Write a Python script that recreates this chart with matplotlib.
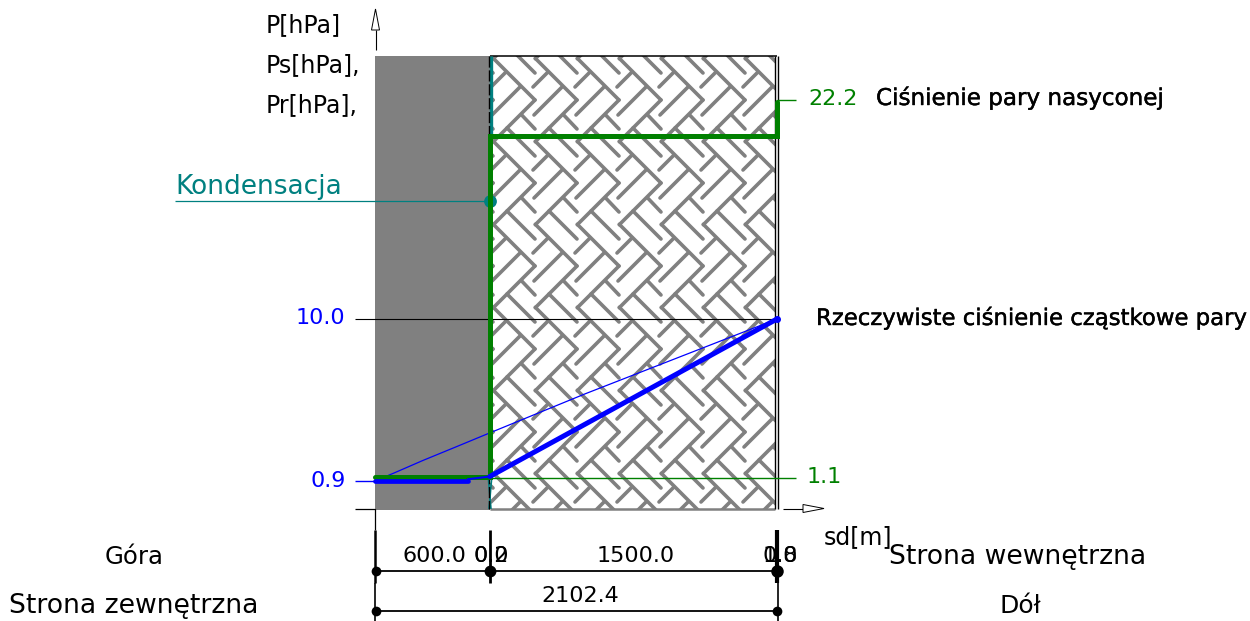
import numpy as np
import matplotlib
matplotlib.use("Agg")
import matplotlib.pyplot as plt
import matplotlib.patheffects as pe
from matplotlib.collections import LineCollection
from matplotlib.patches import Rectangle, Polygon
from matplotlib.transforms import Affine2D

# layers: thickness in sd[m]
layer_labels = ["600.0", "0.2", "0.0", "1500.0", "0.8", "1.0"]
layer_total = 2102.4

# saturation pressure Ps
ps_sd = [0, 600, 600, 2102.4, 2102.4]
ps_val = [1.15, 1.15, 20.3, 20.3, 22.2]
# partial pressure Pr (broken line)
pr_sd = [0, 487, 487, 600, 2102.4]
pr_val = [0.9, 0.9, 1.0, 1.15, 10.0]
# straight line between both surfaces
pr_straight_sd = [0, 100, 250, 420, 600, 1100, 2102.4]
pr_straight_val = [0.9, 1.35, 2.05, 2.8, 3.6, 5.8, 10.0]

cond_sd = 600.0
cond_p = 16.63

W, H = 1250, 621
fig = plt.figure(figsize=(W / 100, H / 100), dpi=100)
ax = fig.add_axes([0, 0, 1, 1])
ax.set_xlim(-375 / 0.1912, (W - 375) / 0.1912)
ax.set_ylim(10 - (H - 319) / 17.8, 10 + 319 / 17.8)
ax.axis("off")

# pixel coordinates for the drawing furniture
px = Affine2D().scale(1, -1).translate(0, H)

BLACK = "#000000"
GREEN = "#008000"
BLUE = "#0000ff"
TEAL = "#008080"
GRAY = "#808080"
y_top, y_bot = 24.78, -0.72

ax.add_patch(Rectangle((0, y_bot), 600, y_top - y_bot, fc=GRAY, ec="none", zorder=1))
clip = Rectangle((490, 56), 285, 453, transform=px)

# herringbone hatch
segs = []
for col in range(-2, 9):
    for row in range(-2, 8):
        x0 = 535 + 42 * col
        y0 = 100 + 83 * row
        for (a, b, c, d) in [(-41.7, -41.7, 0, 0), (0, 0, -41.7, 41.7), (-15, -13, -43, 15),
                             (-29, -28, -44, -13), (-13.3, 15, 0, 29), (-28, 28, 0, 56)]:
            segs.append([(x0 + a, y0 + b), (x0 + c, y0 + d)])
hatch = LineCollection(segs, colors=GRAY, linewidths=2.6, capstyle="round", transform=px, zorder=2)
ax.add_collection(hatch)
hatch.set_clip_path(clip)


def pline(xs, ys, color=BLACK, lw=0.75, z=3, **kw):
    ax.plot(xs, ys, color=color, lw=lw, transform=px, zorder=z, solid_capstyle="butt", **kw)


# borders of the wall
pline([490, 777], [56, 56], lw=1.1)
pline([490, 775], [508.5, 508.5], color=GRAY, lw=1.8)
pline([775, 775], [56, 509], lw=1.0)
pline([777.5, 777.5], [56, 509], lw=1.0)

# teal condensation plane
pline([491, 491], [56, 136], color=TEAL, lw=2.4, z=4)
pline([488.5, 491], [480, 509], color=TEAL, lw=1.2, z=4)
pline([491.5, 489], [480, 509], color=TEAL, lw=1.2, z=4)
pline([489, 489], [56, 509], lw=1.0, z=4, dashes=(8, 2))

# leaders
pline([355, 777], [319, 319], lw=0.8)
pline([355, 375], [481, 481], color=BLUE, lw=1.0)
pline([355, 375, 375], [509, 509, 530], lw=0.9)
pline([490, 796], [478, 478], color=GREEN, lw=1.0, z=5)
pline([777, 796], [100, 100], color=GREEN, lw=1.0)
pline([175, 490], [201, 201], color=TEAL, lw=0.9, z=5)

# series
ax.plot([cond_sd], [cond_p], "o", color=TEAL, ms=9.2, mec="none", zorder=5)
ax.plot(pr_straight_sd, pr_straight_val, color=BLUE, lw=0.9, zorder=6)
ax.plot(ps_sd, ps_val, color=GREEN, lw=3.6, zorder=7, solid_capstyle="round", solid_joinstyle="miter")
ax.plot(pr_sd[:2], pr_val[:2], color=BLUE, lw=3.4, zorder=8, solid_capstyle="round")
ax.plot(pr_sd[2:4], pr_val[2:4], color=BLUE, lw=1.5, zorder=8)
ax.plot(pr_sd[3:], pr_val[3:], color=BLUE, lw=3.6, zorder=8, solid_capstyle="round")
ax.plot([layer_total], [10.0], "o", color=BLUE, ms=4, zorder=8)

# axis arrows
pline([375.5, 375.5], [50, 30], lw=0.8)
ax.add_patch(Polygon([(375.5, 9), (371.5, 30), (379.5, 30)], closed=True, fc="white", ec=BLACK, lw=0.7, transform=px, zorder=3))
pline([783, 803], [508.5, 508.5], lw=0.8)
ax.add_patch(Polygon([(824, 508.5), (803, 504.5), (803, 512.5)], closed=True, fc="white", ec=BLACK, lw=0.7, transform=px, zorder=3))

# dimension lines
pline([375, 375], [530, 583], lw=1.8)
pline([375, 375], [583, 621], lw=1.2)
pline([489.5, 489.5], [530, 583], lw=2.0)
pline([776.5, 776.5], [530, 583], lw=3.0)
pline([777.5, 777.5], [583, 621], lw=1.2)
pline([375, 777], [570.5, 570.5], lw=1.3)
pline([375, 777], [611, 611], lw=1.3)
for dx, dy, ms in [(375.5, 570.5, 7), (490, 570.5, 8.5), (776.5, 570.5, 9), (375.5, 611, 7), (777, 611, 7)]:
    ax.plot([dx], [dy], "o", color=BLACK, ms=ms, mec="none", transform=px, zorder=6)


def label(x, y, s, color=BLACK, size=16, ha="left", bold=False):
    t = ax.text(x, y, s, color=color, fontsize=size, ha=ha, va="center", transform=px, zorder=9)
    if bold:
        t.set_path_effects([pe.withStroke(linewidth=0.3, foreground=color)])


label(266, 25, "P[hPa]", size=17)
label(266, 65, "Ps[hPa],", size=17)
label(266, 105, "Pr[hPa],", size=17)
label(175, 187, "Kondensacja", color=TEAL, size=19)
label(296, 318, "10.0", color=BLUE)
label(310, 481, "0.9", color=BLUE)
label(808, 99, "22.2", color=GREEN)
label(807, 477, "1.1", color=GREEN)
label(876, 98, "Ciśnienie pary nasyconej", size=16.6, bold=True)
label(816, 318, "Rzeczywiste ciśnienie cząstkowe pary", size=16.4, bold=True)
label(824, 537, "sd[m]", size=17)
label(105, 557, "Góra", size=17.6)
label(9, 606, "Strona zewnętrzna", size=19.2)
label(889, 557, "Strona wewnętrzna", size=19.2)
label(999, 606, "Dół", size=18)
label(434, 556, layer_labels[0], ha="center")
label(491, 556, layer_labels[1], ha="center")
label(491, 556, layer_labels[2], ha="center")
label(636, 556, layer_labels[3], ha="center")
label(780, 556, layer_labels[4], ha="center")
label(780, 556, layer_labels[5], ha="center")
label(580, 596, "2102.4", ha="center")

fig.savefig("out.png", dpi=100)
